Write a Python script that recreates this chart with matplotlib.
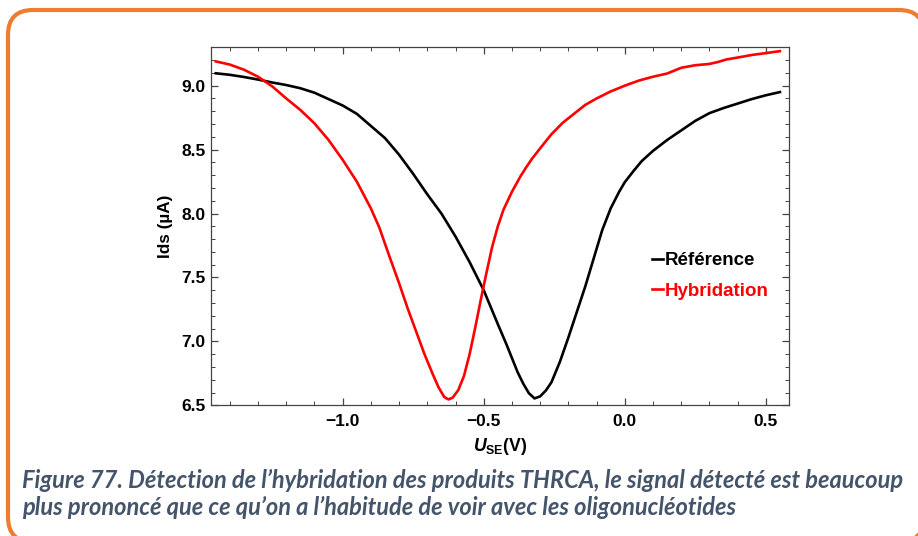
import numpy as np
import matplotlib
matplotlib.use('Agg')
import matplotlib.pyplot as plt
from matplotlib.patches import FancyBboxPatch
from matplotlib.ticker import MultipleLocator

# Ids vs U_SE, reference curve (black)
ref_u = [-1.45, -1.40, -1.35, -1.30, -1.25, -1.20, -1.15, -1.10, -1.05, -1.00,
         -0.95, -0.90, -0.85, -0.80, -0.75, -0.70, -0.65, -0.60, -0.55, -0.50,
         -0.45, -0.42, -0.40, -0.38, -0.36, -0.34, -0.32, -0.30, -0.28, -0.26,
         -0.23, -0.20, -0.17, -0.14, -0.11, -0.08, -0.05, -0.02, 0.00, 0.03,
         0.06, 0.10, 0.15, 0.20, 0.25, 0.30, 0.35, 0.40, 0.45, 0.50, 0.55]
ref_ids = [9.097, 9.085, 9.068, 9.048, 9.025, 9.005, 8.98, 8.945, 8.895, 8.845,
           8.78, 8.685, 8.59, 8.46, 8.31, 8.15, 8.00, 7.82, 7.62, 7.40,
           7.135, 6.98, 6.87, 6.76, 6.67, 6.595, 6.554, 6.57, 6.615, 6.68,
           6.84, 7.03, 7.23, 7.43, 7.65, 7.87, 8.04, 8.17, 8.245, 8.33,
           8.41, 8.49, 8.575, 8.65, 8.725, 8.785, 8.825, 8.86, 8.895, 8.925, 8.95]

# after hybridation (red)
hyb_u = [-1.45, -1.40, -1.35, -1.30, -1.25, -1.20, -1.15, -1.10, -1.05, -1.00,
         -0.95, -0.90, -0.87, -0.84, -0.80, -0.77, -0.74, -0.71, -0.68, -0.66,
         -0.64, -0.625, -0.61, -0.59, -0.57, -0.55, -0.53, -0.51, -0.49, -0.47,
         -0.45, -0.43, -0.40, -0.37, -0.35, -0.33, -0.30, -0.26, -0.22, -0.18,
         -0.14, -0.10, -0.05, 0.00, 0.05, 0.10, 0.15, 0.20, 0.25, 0.30,
         0.33, 0.36, 0.40, 0.45, 0.50, 0.55]
hyb_ids = [9.19, 9.165, 9.125, 9.07, 8.995, 8.90, 8.81, 8.705, 8.575, 8.42,
           8.25, 8.04, 7.89, 7.70, 7.455, 7.26, 7.08, 6.90, 6.74, 6.64,
           6.565, 6.546, 6.56, 6.62, 6.73, 6.90, 7.11, 7.33, 7.54, 7.74,
           7.90, 8.03, 8.17, 8.29, 8.36, 8.425, 8.51, 8.62, 8.71, 8.78,
           8.85, 8.90, 8.955, 9.00, 9.04, 9.07, 9.095, 9.14, 9.16, 9.17,
           9.185, 9.205, 9.22, 9.24, 9.255, 9.27]

caption = ["Figure 77. Détection de l\u2019hybridation des produits THRCA, le signal détecté est beaucoup",
           "plus prononcé que ce qu\u2019on a l\u2019habitude de voir avec les oligonucléotides"]

plt.rcParams['font.family'] = 'Liberation Sans'
plt.rcParams['mathtext.fontset'] = 'custom'
plt.rcParams['mathtext.it'] = 'Liberation Sans:italic:bold'
plt.rcParams['mathtext.rm'] = 'Liberation Sans:bold'

W, H = 918, 536
fig = plt.figure(figsize=(W / 100, H / 100), dpi=100)
ax = fig.add_axes([0.2298, 0.2438, 0.6293, 0.6679])

ax.plot(ref_u, ref_ids, color='black', lw=1.9, label='Référence')
ax.plot(hyb_u, hyb_ids, color='#ff0000', lw=1.9, label='Hybridation')

ax.set_xlim(-1.467, 0.581)
ax.set_ylim(6.5, 9.30)
ax.xaxis.set_major_locator(MultipleLocator(0.5))
ax.xaxis.set_minor_locator(MultipleLocator(0.1))
ax.yaxis.set_major_locator(MultipleLocator(0.5))
ax.yaxis.set_minor_locator(MultipleLocator(0.1))
ax.xaxis.set_major_formatter(lambda v, p: f'{v:.1f}'.replace('-', '\u2212'))
ax.yaxis.set_major_formatter(lambda v, p: f'{v:.1f}')
ax.tick_params(which='both', direction='in', top=True, right=True, color='#444444')
ax.tick_params(which='major', length=5, width=0.9)
ax.tick_params(which='minor', length=3, width=0.7)
ax.tick_params(axis='x', pad=6)
ax.tick_params(axis='y', pad=4)
for lab in ax.get_xticklabels() + ax.get_yticklabels():
    lab.set_fontweight('bold')
    lab.set_fontsize(12.5)
for s in ax.spines.values():
    s.set_color('#444444')
    s.set_linewidth(0.9)

ax.set_xlabel(r'$U_{\mathrm{SE}}$(V)', fontsize=12.7, fontweight='bold', labelpad=5)
ax.set_ylabel('Ids (\u00b5A)', fontsize=12.3, fontweight='bold', labelpad=6)

leg = ax.legend(loc='upper left', bbox_to_anchor=(0.735, 0.475), frameon=False,
                handlelength=0.55, handletextpad=0.1, labelspacing=0.7,
                prop={'weight': 'bold', 'size': 13.5}, labelcolor='linecolor')

# caption in Office-style slate blue
for i, line in enumerate(caption):
    fig.text(22 / W, 1 - (488 + 27 * i) / H, line, fontsize=17, family='Lato',
             style='italic', fontweight='bold', color='#44546a', va='baseline', ha='left')

# rounded orange frame, runs off the right and bottom edges.
# near-transparent face so Agg doesn't clip the curved corners into straight segments
x0, y0, x1, y1 = 8, 10, 924, 542   # pixels from top-left
frame = FancyBboxPatch((x0 / W, 1 - y1 / H), (x1 - x0) / W, (y1 - y0) / H,
                       boxstyle=f'round,pad=0,rounding_size={25 / W}',
                       mutation_aspect=W / H, transform=fig.transFigure,
                       fc=(1, 1, 1, 0.01), ec='#ed7d31', lw=3, zorder=-1)
fig.add_artist(frame)

fig.savefig('out.png', dpi=100)
